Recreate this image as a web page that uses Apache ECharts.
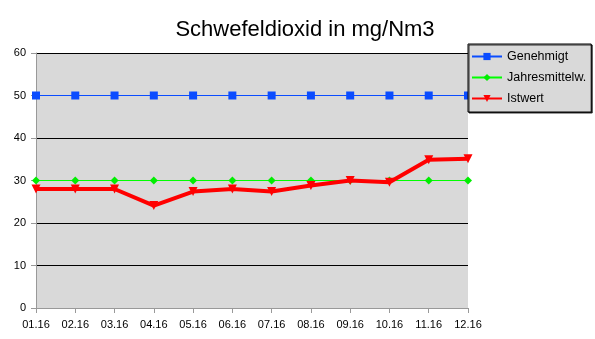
<!DOCTYPE html>
<html><head><meta charset="utf-8">
<script src="https://cdn.jsdelivr.net/npm/echarts@6/dist/echarts.min.js"></script>
<style>html,body{margin:0;padding:0;background:#fff}#c{width:595px;height:339px}</style>
</head><body><div id="c"></div>
<script>
const categories = ['01.16','02.16','03.16','04.16','05.16','06.16','07.16','08.16','09.16','10.16','11.16','12.16'];
const genehmigt = [50,50,50,50,50,50,50,50,50,50,50,50];
const jahresmittel = [30,30,30,30,30,30,30,30,30,30,30,30];
const istwert = [28,28,28,24.1,27.4,28,27.4,28.8,30,29.6,34.9,35.1];
const yTicks = [0,10,20,30,40,50,60];

const chart = echarts.init(document.getElementById('c'));
const font = 'Liberation Sans, Arial, sans-serif';
chart.setOption({
  animation: false,
  title: {text: 'Schwefeldioxid in mg/Nm3', left: 300, textAlign: 'center', top: 14,
    textStyle: {fontFamily: font, fontSize: 22, fontWeight: 'normal', color: '#000'}},
  grid: {left: 36, right: 127, top: 53, bottom: 31, show: true, backgroundColor: '#d9d9d9', borderWidth: 0},
  legend: {
    orient: 'vertical', left: 468, top: 44,
    backgroundColor: '#d9d9d9', borderColor: '#000', borderWidth: 1, borderRadius: 0, padding: [6, 5, 7, 3],
    shadowColor: 'rgba(0,0,0,0.8)', shadowOffsetX: 1, shadowOffsetY: 1, shadowBlur: 0,
    itemGap: 8, itemWidth: 30, itemHeight: 9,
    textStyle: {fontFamily: font, fontSize: 12.5, lineHeight: 12, color: '#000'},
    data: ['Genehmigt','Jahresmittelw.','Istwert']
  },
  xAxis: {type: 'category', data: categories, boundaryGap: false,
    axisLine: {lineStyle: {color: '#999'}}, axisTick: {show: true, length: 5, lineStyle: {color: '#999'}},
    axisLabel: {fontFamily: font, fontSize: 11, color: '#000', margin: 11, interval: 0}},
  yAxis: {type: 'value', min: yTicks[0], max: yTicks[yTicks.length-1], interval: 10,
    axisLine: {show: true, lineStyle: {color: '#999'}}, axisTick: {show: true, length: 5, lineStyle: {color: '#999'}},
    splitLine: {show: true, lineStyle: {color: '#000', width: 1}},
    axisLabel: {fontFamily: font, fontSize: 11, color: '#000', margin: 10}},
  series: [
    {name: 'Genehmigt', type: 'line', data: genehmigt, symbol: 'rect', symbolSize: 8,
      lineStyle: {color: '#0b4cff', width: 1}, itemStyle: {color: '#0b4cff'}, z: 3},
    {name: 'Jahresmittelw.', type: 'line', data: jahresmittel, symbol: 'diamond', symbolSize: 8,
      lineStyle: {color: '#00ff00', width: 1}, itemStyle: {color: '#00ee00'}, z: 4},
    {name: 'Istwert', type: 'line', data: istwert, symbol: 'triangle', symbolRotate: 180, symbolSize: 9,
      lineStyle: {color: '#ff0000', width: 4}, itemStyle: {color: '#ff0000'}, z: 5}
  ]
});
</script></body></html>
